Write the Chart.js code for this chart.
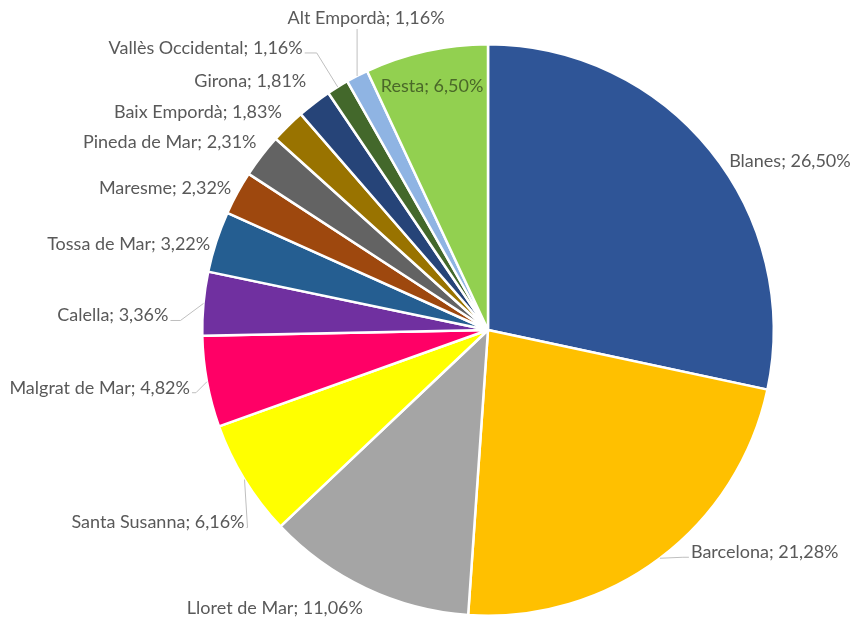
<!DOCTYPE html>
<html>
<head>
<meta charset="utf-8">
<script src="https://cdn.jsdelivr.net/npm/chart.js@4"></script>
<style>
  html, body { margin: 0; padding: 0; background: #fff; }
  #wrap { width: 854px; height: 620px; }
</style>
</head>
<body>
<div id="wrap"><canvas id="chart" width="854" height="620"></canvas></div>
<script>
// data
const labels = ['Blanes', 'Barcelona', 'Lloret de Mar', 'Santa Susanna', 'Malgrat de Mar', 'Calella',
  'Tossa de Mar', 'Maresme', 'Pineda de Mar', 'Baix Empordà', 'Girona', 'Vallès Occidental',
  'Alt Empordà', 'Resta'];
const values = [26.50, 21.28, 11.06, 6.16, 4.82, 3.36, 3.22, 2.32, 2.31, 1.83, 1.81, 1.16, 1.16, 6.50];
const colors = ['#2F5597', '#FFC000', '#A5A5A5', '#FFFF00', '#FF0066', '#7030A0',
  '#255E91', '#9E480E', '#636363', '#997300', '#264478', '#43682B', '#8FB4E3', '#92D050'];

// label placement, relative to the middle of each slice's outer edge
// [dx, dy, align, leader elbow (0 = no leader)]
const labelPlace = [
  [19, 11, 'left', 0],
  [31, -6, 'left', 8],
  [-3, 20, 'right', 0],
  [0, 43, 'right', 3],
  [-17, 6, 'right', 6],
  [-35, 12, 'right', 12],
  [-6, 2, 'right', 0],
  [-6, -5, 'right', 0],
  [-5, -14, 'right', 0],
  [-6, -14, 'right', 0],
  [-8, -22, 'right', 0],
  [-35, -39, 'right', 14],
  [9, -58, 'center', 1],
  [6, 35, 'center', 0]
];

const fmt = v => v.toFixed(2).replace('.', ',') + '%';

const labelPlugin = {
  id: 'sliceLabels',
  afterDatasetsDraw(chart) {
    const {ctx} = chart;
    const meta = chart.getDatasetMeta(0);
    ctx.save();
    ctx.font = '18px Lato';
    ctx.textBaseline = 'middle';
    meta.data.forEach((arc, i) => {
      const {x, y, startAngle, endAngle, outerRadius} = arc.getProps(['x', 'y', 'startAngle', 'endAngle', 'outerRadius'], true);
      const a = (startAngle + endAngle) / 2;
      const ex = x + outerRadius * Math.cos(a);
      const ey = y + outerRadius * Math.sin(a);
      const [dx, dy, align, elbow] = labelPlace[i];
      const tx = ex + dx, ty = ey + dy;
      const text = labels[i] + '; ' + fmt(values[i]);
      if (elbow) {
        ctx.strokeStyle = '#BFBFBF';
        ctx.lineWidth = 1;
        ctx.beginPath();
        ctx.moveTo(ex, ey);
        if (align === 'center') {
          ctx.lineTo(ex, ty + 11);
        } else {
          const dir = align === 'right' ? 1 : -1;
          ctx.lineTo(tx + elbow * dir, ty + 5);
          ctx.lineTo(tx + 2 * dir, ty + 5);
        }
        ctx.stroke();
      }
      ctx.textAlign = align;
      ctx.fillStyle = i === labels.length - 1 ? '#4A6829' : '#595959';
      ctx.fillText(text, tx, ty);
    });
    ctx.restore();
  }
};

new Chart(document.getElementById('chart'), {
  type: 'pie',
  data: {
    labels: labels,
    datasets: [{
      data: values,
      backgroundColor: colors,
      borderColor: '#FFFFFF',
      borderWidth: 2.5
    }]
  },
  options: {
    responsive: false,
    animation: false,
    layout: {padding: {top: 43, bottom: 3, left: 201, right: 79}},
    plugins: {
      legend: {display: false},
      tooltip: {enabled: false}
    }
  },
  plugins: [labelPlugin]
});
</script>
</body>
</html>
